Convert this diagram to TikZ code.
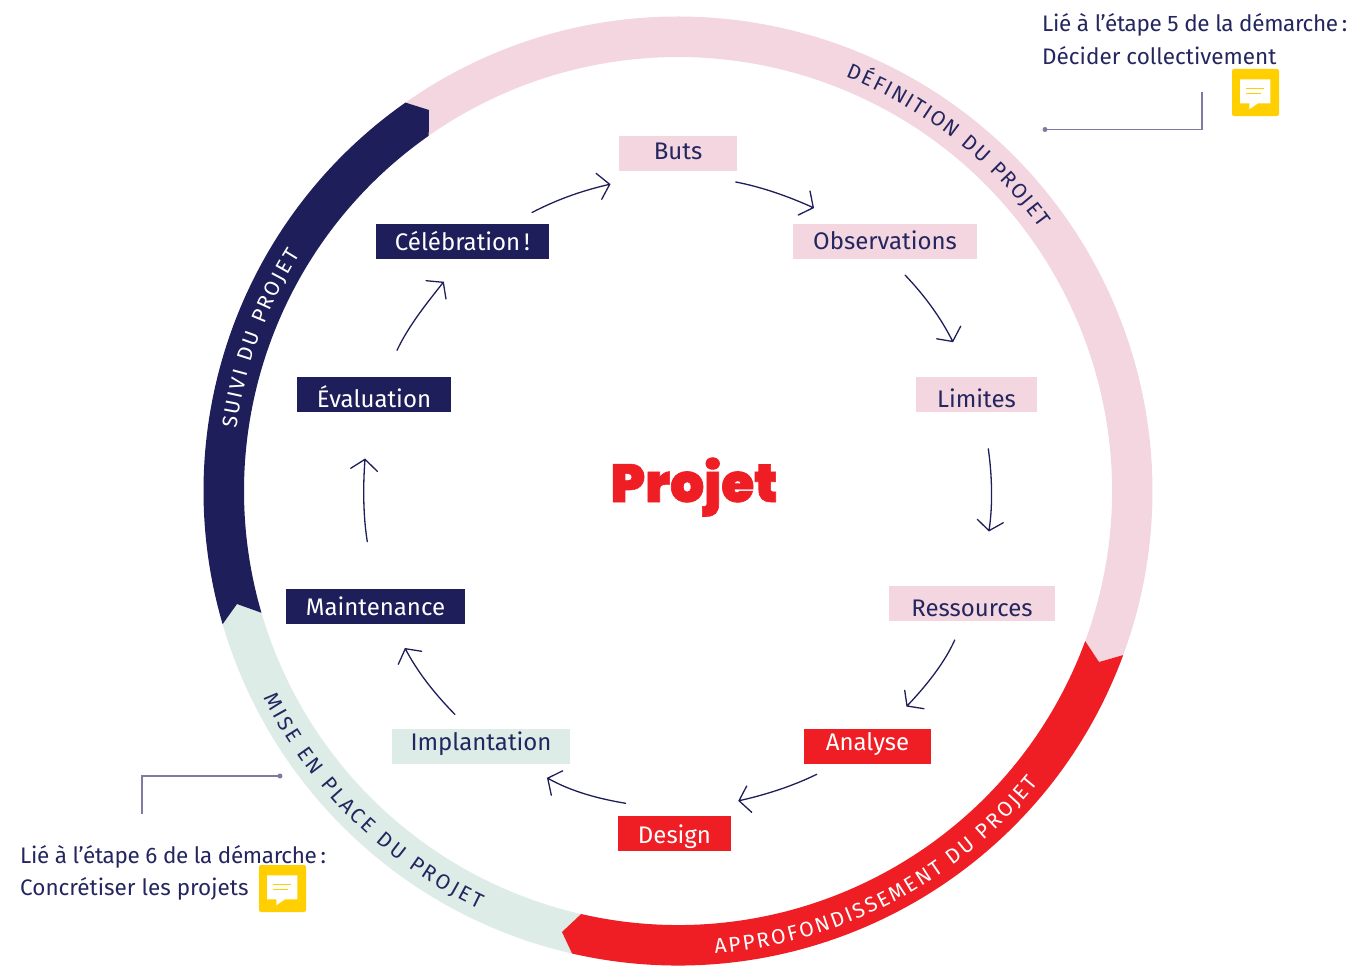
\documentclass[tikz,border=0pt]{standalone}
\usepackage{fontspec}
\usetikzlibrary{decorations.text}
\setmainfont{Fira Sans}
\newfontfamily\projfont{Poppins Black}[FakeBold=1.2]
\definecolor{navy}{HTML}{1E1E5A}
\definecolor{inktext}{HTML}{23265F}
\definecolor{pinkband}{HTML}{F3D6DF}
\definecolor{redband}{HTML}{EF1D24}
\definecolor{mintband}{HTML}{DEECE8}
\definecolor{noteyellow}{HTML}{FFCF00}
\definecolor{leader}{HTML}{7F7A9F}
\newcommand\boxfont{\fontsize{24}{28}\selectfont}
\newcommand\notefont{\fontsize{22.5}{26}\selectfont}
\newcommand\ringfont{\fontsize{21}{24}\selectfont}
\tikzset{
  stepbox/.style n args={3}{inner sep=0pt,outer sep=0pt,minimum width=#1,text height=17.5pt+#3,text depth=17.5pt-#3,font=\boxfont,align=center},
  pinkbox/.style={fill=pinkband,text=inktext},
  redbox/.style={fill=redband,text=white},
  mintbox/.style={fill=mintband,text=inktext},
  navybox/.style={fill=navy,text=white},
  conn/.style={draw=navy,line width=1.3pt,line cap=round,line join=miter},
  leadline/.style={draw=leader,line width=1.3pt},
  note/.style={anchor=base west,inner sep=0pt,text=inktext,font=\notefont},
  noteicon/.pic={
    \fill[noteyellow,rounded corners=2pt] (0,0) rectangle (47,-47);
    \fill[white] (8,-10.3) -- (38.3,-10.3) -- (38.3,-34.3) -- (26,-34.3) -- (17.3,-40.3) -- (17.3,-34.3) -- (8,-34.3) -- cycle;
    \draw[noteyellow,line width=1pt] (14,-19.3) -- (32.3,-19.3) (14,-24.3) -- (29,-24.3);
  }
}
\begin{document}
\begin{tikzpicture}[x=1pt,y=1pt]
\useasboundingbox (0,-966) rectangle (1352,0);
\coordinate (c) at (678,-491);
% ring
\fill[pinkband] ([shift={(130:474.5)}]c) arc (130:-20.23:474.5) -- (1099,-662) -- ([shift={(-20.23:434)}]c) arc (-20.23:130:434) -- cycle;
\fill[mintband] ([shift={(196.3:474.5)}]c) arc (196.3:262:474.5) -- ([shift={(262:434)}]c) arc (262:196.3:434) -- (237,-604) -- cycle;
\fill[navy] ([shift={(125.06:474.5)}]c) arc (125.06:196.3:474.5) -- (237,-604) -- ([shift={(196.3:434)}]c) arc (196.3:125.06:434) -- (429,-110) -- cycle;
\fill[redband] ([shift={(257.1:474.5)}]c) arc (257.1:339.77:474.5) -- (1099,-662) -- ([shift={(-20.23:434)}]c) arc (339.77:257.1:434) -- (562,-932) -- cycle;
% ring labels
\path[decorate,decoration={text along path,text align={fit to path},text={|\ringfont\color{inktext}|DÉFINITION DU PROJET}}] ([shift={(68:447)}]c) arc (68:36:447);
\path[decorate,decoration={text along path,text align={fit to path},text={|\ringfont\color{white}|APPROFONDISSEMENT DU PROJET}}] ([shift={(274.6:464)}]c) arc (274.6:321:464);
\path[decorate,decoration={text along path,text align={fit to path},text={|\ringfont\color{inktext}|MISE EN PLACE DU PROJET}}] ([shift={(206.5:463)}]c) arc (206.5:244.5:463);
\path[decorate,decoration={text along path,text align={fit to path},text={|\ringfont\color{white}|SUIVI DU PROJET}}] ([shift={(172:446)}]c) arc (172:148:446);
% steps
\node[stepbox={118pt}{35pt}{5.5pt},pinkbox] (buts) at (678,-153.5) {Buts};
\node[stepbox={184pt}{35pt}{8pt},pinkbox] (obs) at (885,-241.5) {Observations};
\node[stepbox={121pt}{36pt}{13pt},pinkbox] (lim) at (976.5,-394) {Limites};
\node[stepbox={166pt}{35pt}{12.5pt},pinkbox] (res) at (972,-603.5) {Ressources};
\node[stepbox={127pt}{35pt}{3.5pt},redbox] (ana) at (867.5,-746.5) {Analyse};
\node[stepbox={113pt}{35pt}{9.5pt},redbox] (des) at (674.5,-833.5) {Design};
\node[stepbox={178pt}{36pt}{4pt},mintbox] (imp) at (481,-746) {Implantation};
\node[stepbox={179pt}{35pt}{8.5pt},navybox] (mai) at (375.5,-606.5) {Maintenance};
\node[stepbox={154pt}{35pt}{12.5pt},navybox] (eva) at (374,-394.5) {Évaluation};
\node[stepbox={173pt}{35pt}{8.5pt},navybox] (cel) at (462.5,-241.5) {Célébration\,!};
\node[inner sep=0pt,anchor=base,text=redband,font=\projfont\fontsize{53.5}{58}\selectfont] (proj) at (694,-502) {Projet};
% connectors
\draw[conn] ([shift={(69.5,11.5)}]cel.north) .. controls (560,-198) and (585,-190) .. ([shift={(-68.3,-13.3)}]buts.south) coordinate (t) ++(-13.7,11) -- (t) -- ++(-8,-15);
\draw[conn] ([shift={(57.7,-11)}]buts.south) .. controls (762,-187) and (790,-197) .. ([shift={(-71.7,16.3)}]obs.north) coordinate (t) ++(-3.3,16.7) -- (t) -- ++(-15,-7.3);
\draw[conn] ([shift={(20,-16)}]obs.south) .. controls (925,-296) and (941,-318) .. ([shift={(-23.8,35)}]lim.north) coordinate (t) ++(-16,2.7) -- (t) -- ++(8,15.3);
\draw[conn] ([shift={(11.8,-37.3)}]lim.south) .. controls (992,-475) and (993,-505) .. ([shift={(17,55.3)}]res.north) coordinate (t) ++(-11.7,11.4) -- (t) -- ++(14.3,8);
\draw[conn] ([shift={(-17.3,-19)}]res.south) .. controls (945,-662) and (927,-685) .. ([shift={(39.5,23)}]ana.north) coordinate (t) ++(-2.3,15.7) -- (t) -- ++(17,-2.7);
\draw[conn] ([shift={(-50.8,-10.3)}]ana.south) .. controls (793,-786) and (765,-795) .. ([shift={(64.5,15.3)}]des.north) coordinate (t) ++(7.7,14.7) -- (t) -- ++(12.7,-11.6);
\draw[conn] ([shift={(-48.8,12.7)}]des.north) .. controls (600,-799) and (572,-792) .. ([shift={(66.7,-14.7)}]imp.south) coordinate (t) ++(15,7.4) -- (t) -- ++(3.6,-17);
\draw[conn] ([shift={(-26,14)}]imp.north) .. controls (433,-692) and (417,-671) .. ([shift={(29.8,-24.7)}]mai.south) coordinate (t) ++(-7,-15.6) -- (t) -- ++(16.4,-2.6);
\draw[conn] ([shift={(-8.2,47.3)}]mai.north) .. controls (363,-515) and (363,-485) .. ([shift={(-9,-47.3)}]eva.south) coordinate (t) ++(-14.3,-9) -- (t) -- ++(12.3,-12);
\draw[conn] ([shift={(23,26.7)}]eva.north) .. controls (409,-325) and (427,-303) .. ([shift={(-19.2,-23.3)}]cel.south) coordinate (t) ++(-17.3,1.6) -- (t) -- ++(2.7,-16.7);
% notes
\node[note] (n5a) at (1042,-32) {\addfontfeature{LetterSpace=-1.6}Lié à l’étape 5 de la démarche\,:};
\node[note] (n5b) at (1042,-64) {Décider collectivement};
\node[note] (n6a) at (20,-863.7) {\addfontfeature{LetterSpace=-1.6}Lié à l’étape 6 de la démarche\,:};
\node[note] (n6b) at (20,-895) {Concrétiser les projets};
\pic at (1232,-69) {noteicon};
\pic at (259,-865) {noteicon};
% leaders
\coordinate (d5) at (1045,-129.5);
\coordinate (e5) at (1202,-92);
\coordinate (d6) at (280,-776);
\coordinate (e6) at (142,-814);
\draw[leadline] (d5) -| (e5);
\fill[leader] (d5) circle (2.5);
\draw[leadline] (d6) -| (e6);
\fill[leader] (d6) circle (2.5);
\end{tikzpicture}
\end{document}
